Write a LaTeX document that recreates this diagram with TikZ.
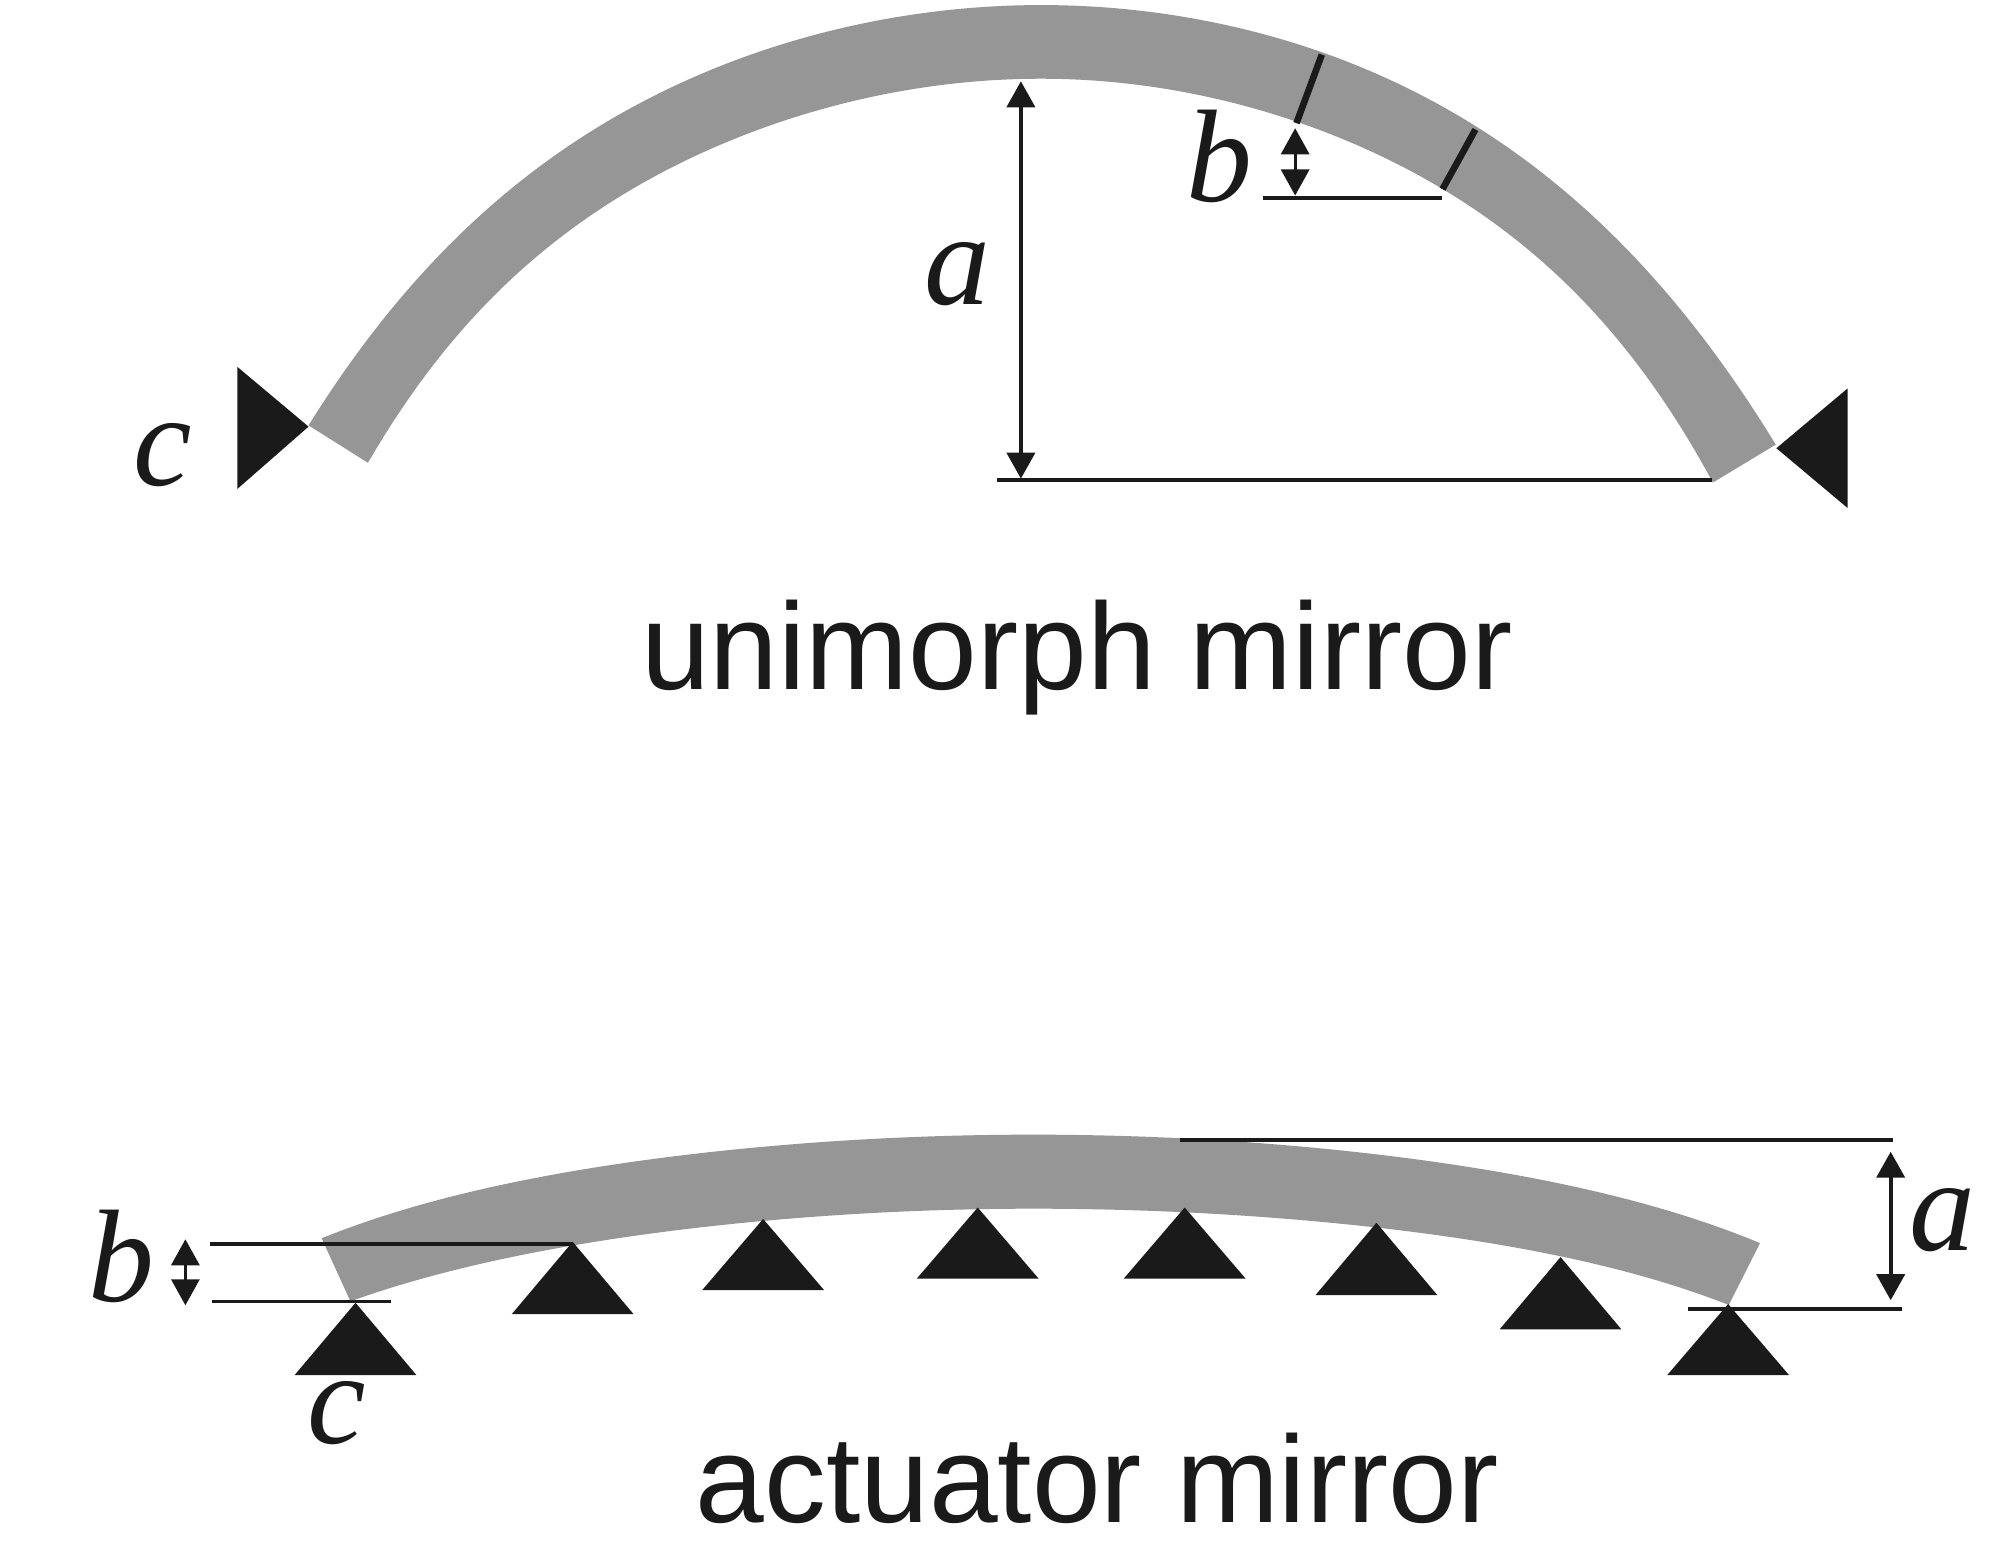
\documentclass[tikz,border=0pt]{standalone}
\usepackage{fontspec}
\setmainfont{Liberation Serif}
\newfontfamily\capfont{Liberation Sans}
\usetikzlibrary{arrows.meta}
\definecolor{ink}{HTML}{1A1A1A}
\definecolor{mirrorgray}{HTML}{969696}
\tikzset{
  mirror/.style={fill=mirrorgray,draw=none},
  support/.style={fill=ink,draw=none},
  guide/.style={draw=ink,line width=0.03cm},
  tick/.style={draw=ink,line width=0.052cm},
  dim/.style={draw=ink,line width=0.033cm,{Triangle[width=0.22cm,length=0.205cm]}-{Triangle[width=0.22cm,length=0.205cm]}},
  smalldim/.style={dim,line width=0.026cm},
  letter/.style={text=ink,font=\fontsize{29.5}{30}\selectfont\itshape,inner sep=0pt,anchor=base},
  caption/.style={text=ink,font=\capfont\fontsize{27.65}{28}\selectfont,inner sep=0pt,anchor=base}
}
\begin{document}
\begin{tikzpicture}[x=0.01cm,y=-0.01cm]
\useasboundingbox (0,0) rectangle (1568,1223.9);
\fill[white] (0,0) rectangle (1568,1223.9);
% upper mirror
\fill[mirror]
  plot[domain=1:0.001,samples=80] ({820-577*\x},{4+243*\x*\x+88*\x^5})
  -- plot[domain=0.001:1,samples=80] ({820+579*\x},{4+244.7*\x*\x+51*\x^4+51.3*\x^5})
  -- plot[domain=1:0.001,samples=80] ({820+529*\x},{62+232.3*\x*\x+85.7*\x^6})
  -- plot[domain=0.001:1,samples=80] ({820-530.7*\x},{62+225.3*\x*\x+78*\x^6})
  -- cycle;
% upper supports
\fill[support] (187,289) -- (187,385) -- (243,336) -- cycle;
\fill[support] (1455,306) -- (1455,400) -- (1399,353) -- cycle;
% section ticks
\coordinate (t1o) at (1041,43);
\coordinate (t1i) at (1021,97);
\coordinate (t2o) at (1162,102);
\coordinate (t2i) at (1136,149);
\draw[tick] (t1o) -- (t1i);
\draw[tick] (t2o) -- (t2i);
% upper dimensions
\coordinate (ua1) at (804,64);
\coordinate (ua2) at (804,377);
\coordinate (ubase1) at (785,378);
\coordinate (ubase2) at (1348,378);
\coordinate (ub1) at (1020,101);
\coordinate (ub2) at (1020,154);
\coordinate (ubl1) at (995,156);
\coordinate (ubl2) at (1136,156);
\draw[guide] (ubase1) -- (ubase2);
\draw[guide] (ubl1) -- (ubl2);
\draw[dim] (ua1) -- (ua2);
\draw[smalldim] (ub1) -- (ub2);
\node[letter] (ua) at (754,239.5) {a};
\node[letter] (ub) at (960,159) {b};
\node[letter] (uc) at (128,382) {c};
\node[caption] (ucap) at (848,543) {unimorph mirror};
% lower mirror
\fill[mirror]
  plot[domain=1:0.001,samples=80] ({813.8-560.5*\x},{893.6+65.9*\x*\x+15.7*\x^6})
  -- plot[domain=0.001:1,samples=80] ({813.8+572.8*\x},{893.6+68.9*\x*\x+16.7*\x^6})
  -- plot[domain=1:0.001,samples=80] ({813.8+547.7*\x},{951.9+60*\x*\x+15.8*\x^6})
  -- plot[domain=0.001:1,samples=80] ({813.8-538.3*\x},{951.9+61.4*\x*\x+11.7*\x^6})
  -- cycle;
% lower supports
\foreach \ax/\ay/\by in {280/1026/1083,451/978/1035,601/960/1016,770/951/1007,933/951/1007,1084/963/1020,1229/990/1047,1361/1027/1083}{
  \fill[support] (\ax,\ay) -- (\ax+48,\by) -- (\ax-48,\by) -- cycle;
}
% lower dimensions
\coordinate (lb1) at (165,980);
\coordinate (lb2) at (451,980);
\coordinate (lb3) at (167,1025);
\coordinate (lb4) at (308,1025);
\coordinate (la1) at (929,898);
\coordinate (la2) at (1491,898);
\coordinate (la3) at (1329,1031);
\coordinate (la4) at (1498,1031);
\coordinate (lba) at (146,976);
\coordinate (lbb) at (146,1028);
\coordinate (laa) at (1489,907);
\coordinate (lab) at (1489,1024);
\draw[guide] (lb1) -- (lb2);
\draw[guide] (lb3) -- (lb4);
\draw[guide] (la1) -- (la2);
\draw[guide] (la3) -- (la4);
\draw[smalldim] (lba) -- (lbb);
\draw[dim] (laa) -- (lab);
\node[letter] (lb) at (96,1025) {b};
\node[letter] (la) at (1530,985) {a};
\node[letter] (lc) at (265,1137) {c};
\node[caption] (lcap) at (864,1199) {actuator mirror};
\end{tikzpicture}
\end{document}
